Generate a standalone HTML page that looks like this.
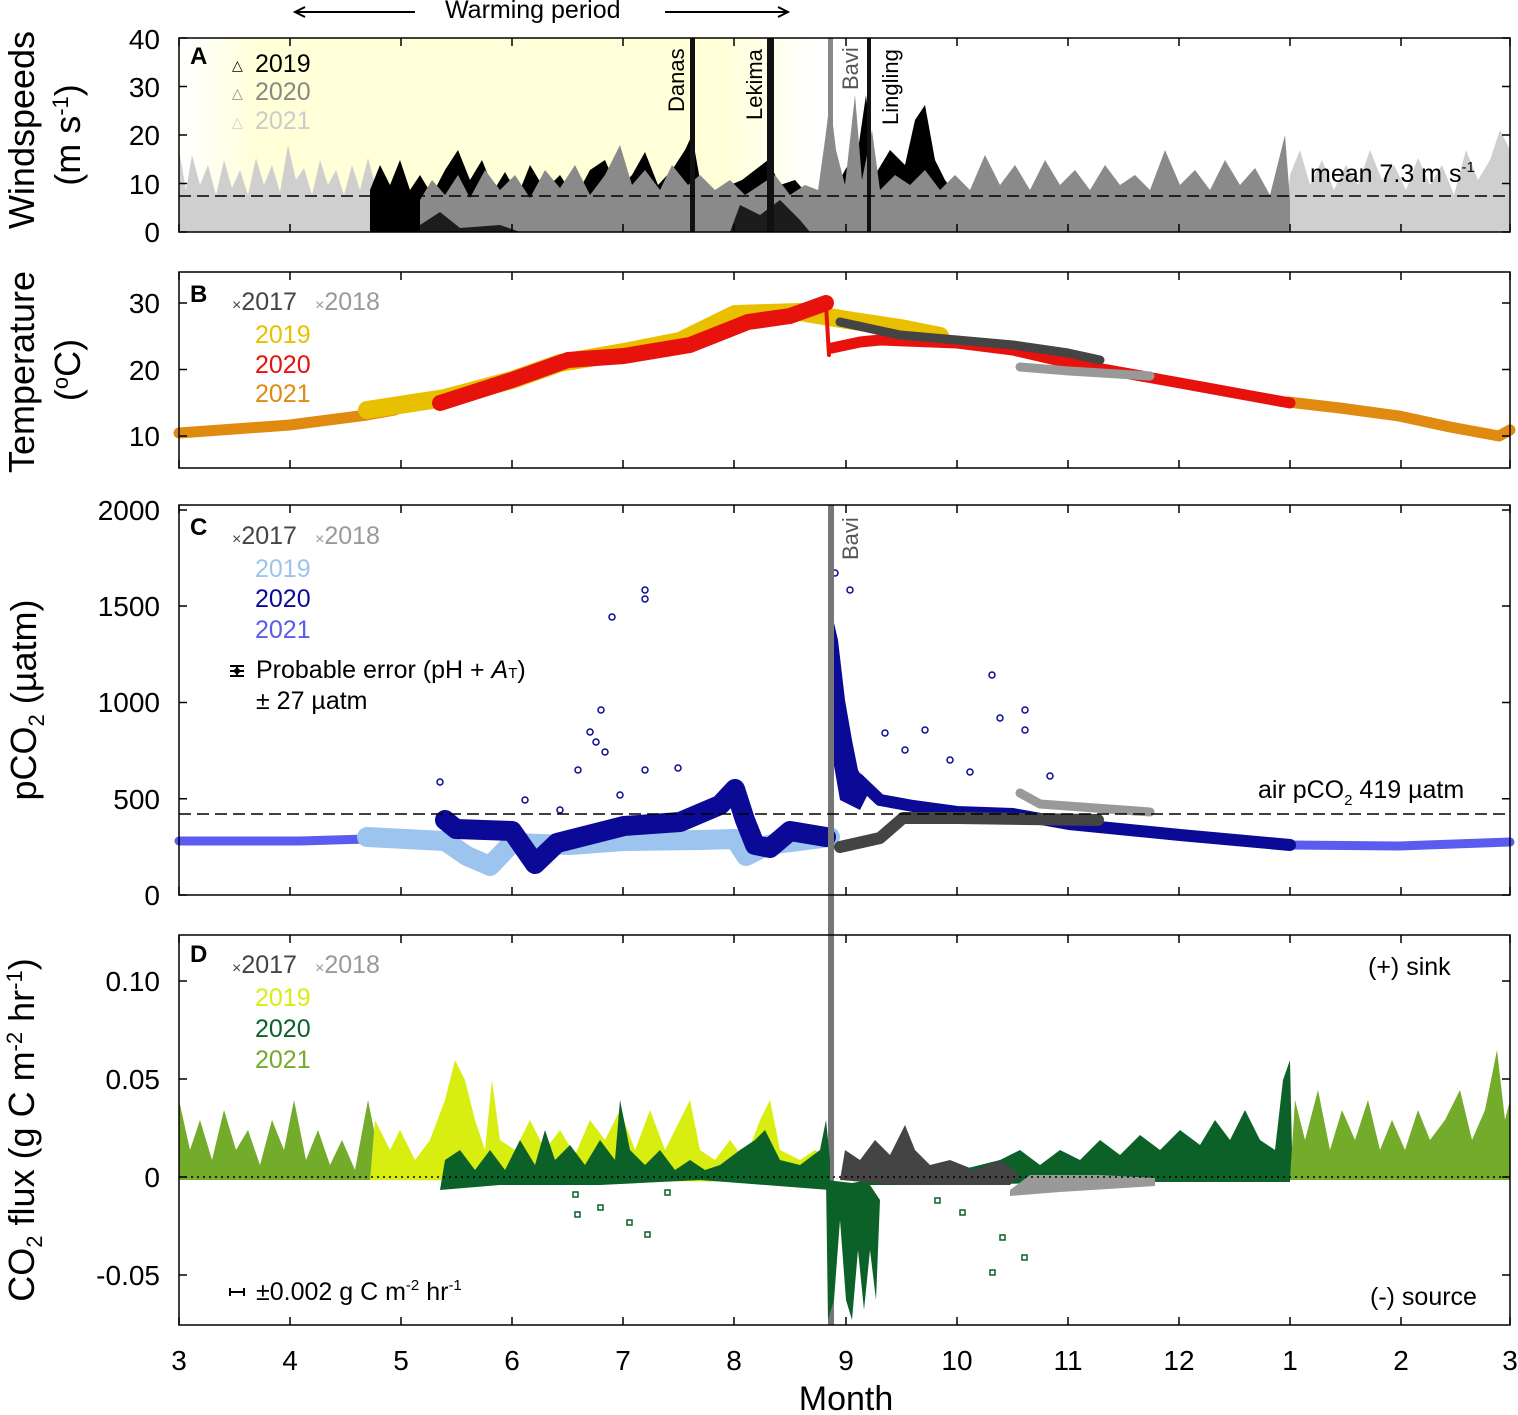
<!DOCTYPE html>
<html><head><meta charset="utf-8"><style>
body{margin:0;background:#fff}
svg{display:block;font-family:"Liberation Sans",Arial,sans-serif}
</style></head><body>
<svg width="1518" height="1415" viewBox="0 0 1518 1415" xmlns="http://www.w3.org/2000/svg">
<defs>
<linearGradient id="yg" x1="0" x2="1" y1="0" y2="0">
<stop offset="0" stop-color="#ffffe0" stop-opacity="0"/>
<stop offset="0.12" stop-color="#ffffd8"/>
<stop offset="0.85" stop-color="#ffffd8"/>
<stop offset="1" stop-color="#ffffe0" stop-opacity="0"/>
</linearGradient>
<path id="xt" d="M179 0v8M290 0v8M401 0v8M512 0v8M623 0v8M734 0v8M846 0v8M957 0v8M1068 0v8M1179 0v8M1290 0v8M1401 0v8M1510 0v8" stroke="#000" stroke-width="1.5"/>
</defs>
<rect x="180" y="38" width="640" height="194" fill="url(#yg)"/>

<!-- Panel A wind -->
<polygon fill="#cfcfcf" points="179,232 179,150 186,190 192,155 200,185 208,165 216,195 224,160 232,188 240,170 248,195 256,158 264,185 272,165 280,192 288,145 296,180 304,168 312,195 320,160 328,185 336,170 344,195 352,165 360,190 368,158 376,188 384,175 392,200 400,232"/>
<polygon fill="#cfcfcf" points="1285,232 1290,175 1300,150 1310,185 1322,160 1334,190 1346,165 1358,185 1370,150 1382,180 1394,165 1406,190 1418,158 1430,185 1442,165 1454,195 1466,150 1478,180 1490,160 1500,130 1510,150 1510,232"/>
<polygon fill="#000" points="370,232 370,190 380,165 390,185 400,160 410,190 420,175 432,195 445,170 458,150 470,180 482,160 494,190 505,172 518,195 530,165 545,190 560,175 575,198 590,170 605,160 618,190 632,175 645,152 658,185 672,170 685,150 692,135 700,180 715,195 730,185 742,180 755,170 768,160 780,185 795,180 808,195 820,190 830,200 845,170 858,150 866,95 875,175 890,150 905,165 915,120 925,105 935,160 945,180 960,200 960,232"/>
<polygon fill="#8a8a8a" points="420,232 420,200 432,180 445,195 458,175 470,198 485,170 500,190 515,175 530,198 545,170 560,188 575,165 590,195 605,175 620,145 632,185 645,170 660,190 672,165 688,185 700,175 715,190 730,180 745,195 760,185 775,175 790,195 805,185 818,190 825,140 830,100 836,150 845,185 855,95 862,180 872,130 880,190 895,175 910,185 925,170 940,190 955,175 970,190 985,155 1000,185 1015,165 1030,190 1045,160 1060,185 1075,170 1090,190 1105,165 1120,185 1135,175 1150,190 1165,150 1180,185 1195,170 1210,190 1225,160 1240,185 1255,168 1270,195 1285,135 1290,200 1290,232"/>
<polygon fill="#000" points="400,232 405,215 420,225 440,212 460,228 500,225 520,232" opacity="0.8"/>
<polygon fill="#000" points="730,232 740,205 760,215 780,200 800,220 810,232" opacity="0.8"/>

<rect x="690" y="38" width="5" height="194" fill="#111"/>
<rect x="767" y="38" width="7" height="194" fill="#111"/>
<rect x="828" y="38" width="5" height="90" fill="#888"/>
<rect x="867" y="38" width="4" height="194" fill="#111"/>

<!-- Panel B temperature -->
<g fill="none" stroke-linecap="round" stroke-linejoin="round">
<polyline stroke="#e08a10" stroke-width="11" points="179,433 290,425 367,415 395,410"/>
<polyline stroke="#e08a10" stroke-width="11" points="1288,402 1340,408 1399,416 1450,427 1499,436 1510,430"/>
<polyline stroke="#e8c000" stroke-width="18" points="367,410 445,398 512,380 560,363 624,352 680,341 735,314 800,312 847,320 900,328 940,336"/>
<polyline stroke="#e8120c" stroke-width="16" points="440,403 512,380 568,360 624,356 690,345 748,322 790,316 826,303"/>
<polyline stroke="#e8120c" stroke-width="11" points="832,348 860,342 880,340 957,343 1013,350 1069,363 1180,383 1290,403"/>
<polyline stroke="#444" stroke-width="9" points="840,322 900,335 957,340 1013,345 1068,353 1100,360"/>
<polyline stroke="#999" stroke-width="9" points="1020,367 1069,371 1150,376"/>
<polyline stroke="#e8120c" stroke-width="4" points="826,305 829,355"/>
</g>

<!-- Panel C pCO2 -->
<g fill="none" stroke-linecap="round" stroke-linejoin="round">
<polyline stroke="#5b5bef" stroke-width="9" points="179,841 300,841 367,839"/>
<polyline stroke="#5b5bef" stroke-width="9" points="1290,845 1399,846 1510,842"/>
<polyline stroke="#9cc4ef" stroke-width="20" points="367,837 445,841 467,856 490,866 512,843 570,845 624,841 700,840 735,839 746,856 768,845 830,837"/>
<polyline stroke="#0a0a96" stroke-width="20" points="445,820 456,829 512,831 535,864 557,843 624,826 680,822 720,805 735,789 745,820 755,845 770,848 790,831 826,837"/>
<polyline stroke="#0a0a96" stroke-width="12" points="858,779 880,800 913,806 957,812 1013,814 1069,824 1180,835 1290,845"/>
<polygon fill="#0a0a96" points="831,610 838,640 845,700 852,740 858,770 870,790 860,810 840,800 833,760 831,700"/>
<polyline stroke="#444" stroke-width="12" points="840,847 880,838 903,818 957,818 1098,820"/>
<polyline stroke="#999" stroke-width="9" points="1020,793 1040,804 1150,812"/>
</g>
<g fill="none" stroke="#0a0a96" stroke-width="1.5">
<circle cx="645" cy="590" r="3"/><circle cx="645" cy="599" r="3"/><circle cx="612" cy="617" r="3"/><circle cx="601" cy="710" r="3"/><circle cx="590" cy="732" r="3"/><circle cx="596" cy="742" r="3"/><circle cx="605" cy="752" r="3"/><circle cx="578" cy="770" r="3"/><circle cx="645" cy="770" r="3"/><circle cx="678" cy="768" r="3"/><circle cx="835" cy="573" r="3"/><circle cx="850" cy="590" r="3"/><circle cx="992" cy="675" r="3"/><circle cx="1025" cy="710" r="3"/><circle cx="1025" cy="730" r="3"/><circle cx="1000" cy="718" r="3"/><circle cx="925" cy="730" r="3"/><circle cx="905" cy="750" r="3"/><circle cx="885" cy="733" r="3"/><circle cx="950" cy="760" r="3"/><circle cx="970" cy="772" r="3"/><circle cx="1050" cy="776" r="3"/><circle cx="560" cy="810" r="3"/><circle cx="620" cy="795" r="3"/><circle cx="440" cy="782" r="3"/><circle cx="525" cy="800" r="3"/>
</g>
<rect x="828" y="505" width="6" height="820" fill="#777"/>

<!-- Panel D flux -->
<polygon fill="#73ab2a" points="179,1180 179,1100 190,1150 200,1120 212,1160 224,1110 236,1150 248,1130 260,1165 272,1120 284,1150 294,1100 306,1160 318,1130 330,1165 342,1140 355,1170 368,1100 380,1160 395,1150 400,1180"/>
<polygon fill="#d8ee10" points="370,1180 375,1120 390,1150 400,1130 415,1160 430,1140 445,1100 455,1060 465,1080 475,1120 485,1150 492,1080 500,1140 515,1150 530,1120 545,1150 560,1130 575,1155 590,1120 605,1140 620,1110 635,1150 650,1110 665,1150 680,1120 690,1100 700,1150 715,1160 730,1140 745,1160 760,1120 770,1100 780,1150 800,1160 815,1150 830,1160 830,1182"/>
<polygon fill="#0b6128" points="440,1190 445,1160 460,1150 475,1170 490,1150 505,1170 520,1140 535,1165 545,1130 555,1160 570,1145 585,1165 600,1140 615,1160 620,1100 630,1150 645,1165 660,1150 675,1170 690,1160 705,1170 720,1165 740,1150 755,1140 765,1130 780,1160 800,1165 820,1150 826,1120 830,1160 830,1190 700,1180 600,1185 500,1185"/>
<polygon fill="#0b6128" points="840,1185 900,1175 960,1170 1000,1160 1020,1150 1040,1165 1060,1150 1080,1160 1100,1140 1120,1155 1140,1135 1160,1150 1180,1130 1200,1145 1215,1120 1230,1140 1245,1110 1260,1140 1275,1150 1283,1080 1290,1060 1292,1150 1290,1182 1100,1182 950,1185"/>
<polygon fill="#73ab2a" points="1290,1180 1295,1100 1305,1140 1318,1090 1330,1150 1342,1110 1355,1140 1368,1100 1380,1150 1392,1120 1405,1150 1418,1110 1430,1140 1445,1120 1460,1090 1472,1140 1485,1110 1497,1050 1505,1120 1510,1100 1510,1180"/>
<polygon fill="#444" points="840,1180 845,1150 860,1160 875,1140 890,1155 905,1125 915,1150 930,1165 950,1160 975,1170 1000,1160 1020,1175 1010,1185 900,1185"/>
<polygon fill="#999" points="1010,1190 1030,1175 1100,1175 1155,1178 1155,1186 1060,1192 1010,1196"/>
<polygon fill="#0b6128" points="826,1180 828,1320 834,1300 840,1220 846,1300 852,1320 858,1250 864,1310 870,1250 876,1300 880,1200 870,1185"/>
<g fill="none" stroke="#0b6128" stroke-width="1.5">
<rect x="573" y="1192" width="5" height="5"/><rect x="598" y="1205" width="5" height="5"/><rect x="575" y="1212" width="5" height="5"/><rect x="627" y="1220" width="5" height="5"/><rect x="645" y="1232" width="5" height="5"/><rect x="665" y="1190" width="5" height="5"/><rect x="990" y="1270" width="5" height="5"/><rect x="1022" y="1255" width="5" height="5"/><rect x="1000" y="1235" width="5" height="5"/><rect x="960" y="1210" width="5" height="5"/><rect x="935" y="1198" width="5" height="5"/>
</g>

<!-- frames -->
<g fill="none" stroke="#000" stroke-width="1.5">
<rect x="179" y="38" width="1331" height="194"/>
<rect x="179" y="272" width="1331" height="196"/>
<rect x="179" y="505" width="1331" height="390"/>
<rect x="179" y="935" width="1331" height="390"/>
</g>
<use href="#xt" y="38"/><use href="#xt" y="272"/><use href="#xt" y="505"/><use href="#xt" y="935"/>
<use href="#xt" transform="translate(0,232) scale(1,-1)"/><use href="#xt" transform="translate(0,468) scale(1,-1)"/><use href="#xt" transform="translate(0,895) scale(1,-1)"/><use href="#xt" transform="translate(0,1325) scale(1,-1)"/>
<path stroke="#000" stroke-width="1.5" d="M179 232h8M179 183.5h8M179 135h8M179 86.5h8M179 38h8M1510 232h-8M1510 183.5h-8M1510 135h-8M1510 86.5h-8M1510 38h-8
M179 436h8M179 369.5h8M179 303h8M1510 436h-8M1510 369.5h-8M1510 303h-8
M179 895h8M179 798.75h8M179 702.5h8M179 606h8M179 510h8M1510 895h-8M1510 798.75h-8M1510 702.5h-8M1510 606h-8M1510 510h-8
M179 1275h8M179 1177h8M179 1079h8M179 981h8M1510 1275h-8M1510 1177h-8M1510 1079h-8M1510 981h-8"/>

<line x1="179" x2="1510" y1="196" y2="196" stroke="#000" stroke-width="1.5" stroke-dasharray="12,6"/>
<line x1="179" x2="1510" y1="814" y2="814" stroke="#000" stroke-width="1.5" stroke-dasharray="12,6"/>
<line x1="179" x2="1510" y1="1177" y2="1177" stroke="#000" stroke-width="1.5" stroke-dasharray="2,4"/>

<g font-size="22" fill="#000">
<text transform="translate(684,112) rotate(-90)">Danas</text>
<text transform="translate(762,120) rotate(-90)">Lekima</text>
<text transform="translate(858,90) rotate(-90)" fill="#555">Bavi</text>
<text transform="translate(898,125) rotate(-90)">Lingling</text>
<text transform="translate(858,560) rotate(-90)" fill="#555">Bavi</text>
</g>

<g font-size="28" text-anchor="end">
<text x="160" y="242">0</text><text x="160" y="194">10</text><text x="160" y="145">20</text><text x="160" y="97">30</text><text x="160" y="49">40</text>
<text x="160" y="446">10</text><text x="160" y="380">20</text><text x="160" y="313">30</text>
<text x="160" y="905">0</text><text x="160" y="809">500</text><text x="160" y="712">1000</text><text x="160" y="616">1500</text><text x="160" y="520">2000</text>
<text x="160" y="1285">-0.05</text><text x="160" y="1187">0</text><text x="160" y="1089">0.05</text><text x="160" y="991">0.10</text>
</g>
<g font-size="28" text-anchor="middle">
<text x="179" y="1370">3</text><text x="290" y="1370">4</text><text x="401" y="1370">5</text><text x="512" y="1370">6</text><text x="623" y="1370">7</text><text x="734" y="1370">8</text><text x="846" y="1370">9</text><text x="957" y="1370">10</text><text x="1068" y="1370">11</text><text x="1179" y="1370">12</text><text x="1290" y="1370">1</text><text x="1401" y="1370">2</text><text x="1510" y="1370">3</text>
<text x="846" y="1410" font-size="34">Month</text>
</g>
<g font-size="36" text-anchor="middle">
<text transform="translate(34,130) rotate(-90)">Windspeeds</text>
<text transform="translate(80,135) rotate(-90)">(m s<tspan font-size="22" dy="-12">-1</tspan><tspan dy="12">)</tspan></text>
<text transform="translate(34,372) rotate(-90)">Temperature</text>
<text transform="translate(80,370) rotate(-90)">(<tspan font-size="22" dy="-12">o</tspan><tspan dy="12">C)</tspan></text>
<text transform="translate(36,700) rotate(-90)">pCO<tspan font-size="22" dy="8">2</tspan><tspan dy="-8"> (µatm)</tspan></text>
<text transform="translate(34,1130) rotate(-90)">CO<tspan font-size="22" dy="8">2</tspan><tspan dy="-8"> flux (g C m</tspan><tspan font-size="22" dy="-12">-2</tspan><tspan dy="12"> hr</tspan><tspan font-size="22" dy="-12">-1</tspan><tspan dy="12">)</tspan></text>
</g>
<g font-size="24" font-weight="bold"><text x="190" y="64">A</text><text x="190" y="302">B</text><text x="190" y="535">C</text><text x="190" y="962">D</text></g>
<g font-size="25">
<text x="255" y="72">2019</text><text x="255" y="100" fill="#888">2020</text><text x="255" y="129" fill="#ccc">2021</text>
<text x="232" y="70" font-size="14">△</text><text x="232" y="98" font-size="14" fill="#888">△</text><text x="232" y="127" font-size="14" fill="#ccc">△</text>
<text x="1310" y="182">mean 7.3 m s<tspan font-size="15" dy="-10">-1</tspan></text>
<text x="232" y="310"><tspan font-size="16" fill="#444">×</tspan><tspan fill="#444">2017</tspan><tspan font-size="16" fill="#999" dx="18">×</tspan><tspan fill="#999">2018</tspan></text>
<text x="255" y="343" fill="#e8c000">2019</text><text x="255" y="373" fill="#e8120c">2020</text><text x="255" y="402" fill="#e08a10">2021</text>
<text x="232" y="544"><tspan font-size="16" fill="#444">×</tspan><tspan fill="#444">2017</tspan><tspan font-size="16" fill="#999" dx="18">×</tspan><tspan fill="#999">2018</tspan></text>
<text x="255" y="577" fill="#9cc4ef">2019</text><text x="255" y="607" fill="#0a0a96">2020</text><text x="255" y="638" fill="#5b5bef">2021</text>
<text x="256" y="678">Probable error (pH + <tspan font-style="italic">A</tspan><tspan font-size="15">T</tspan>)</text>
<text x="256" y="709">± 27 µatm</text>
<text x="1258" y="798">air pCO<tspan font-size="15" dy="7">2</tspan><tspan dy="-7"> 419 µatm</tspan></text>
<text x="232" y="973"><tspan font-size="16" fill="#444">×</tspan><tspan fill="#444">2017</tspan><tspan font-size="16" fill="#999" dx="18">×</tspan><tspan fill="#999">2018</tspan></text>
<text x="255" y="1006" fill="#d8ee10">2019</text><text x="255" y="1037" fill="#0b6128">2020</text><text x="255" y="1068" fill="#73ab2a">2021</text>
<text x="1368" y="975">(+) sink</text><text x="1370" y="1305">(-) source</text>
<text x="256" y="1300">±0.002 g C m<tspan font-size="15" dy="-10">-2</tspan><tspan dy="10"> hr</tspan><tspan font-size="15" dy="-10">-1</tspan></text>
<text x="445" y="18">Warming period</text>
</g>
<g stroke="#000" stroke-width="2" fill="none">
<path d="M230 671h14M237 666v10M230 666h14M230 676h14"/>
<path d="M230 1292h14M230 1288v8M244 1288v8"/>
<path d="M415 12H295M305 7l-10 5 10 5"/><path d="M665 12H788M778 7l10 5-10 5"/>
</g>
<circle cx="237" cy="671" r="3" fill="#000"/>
</svg>
</body></html>
